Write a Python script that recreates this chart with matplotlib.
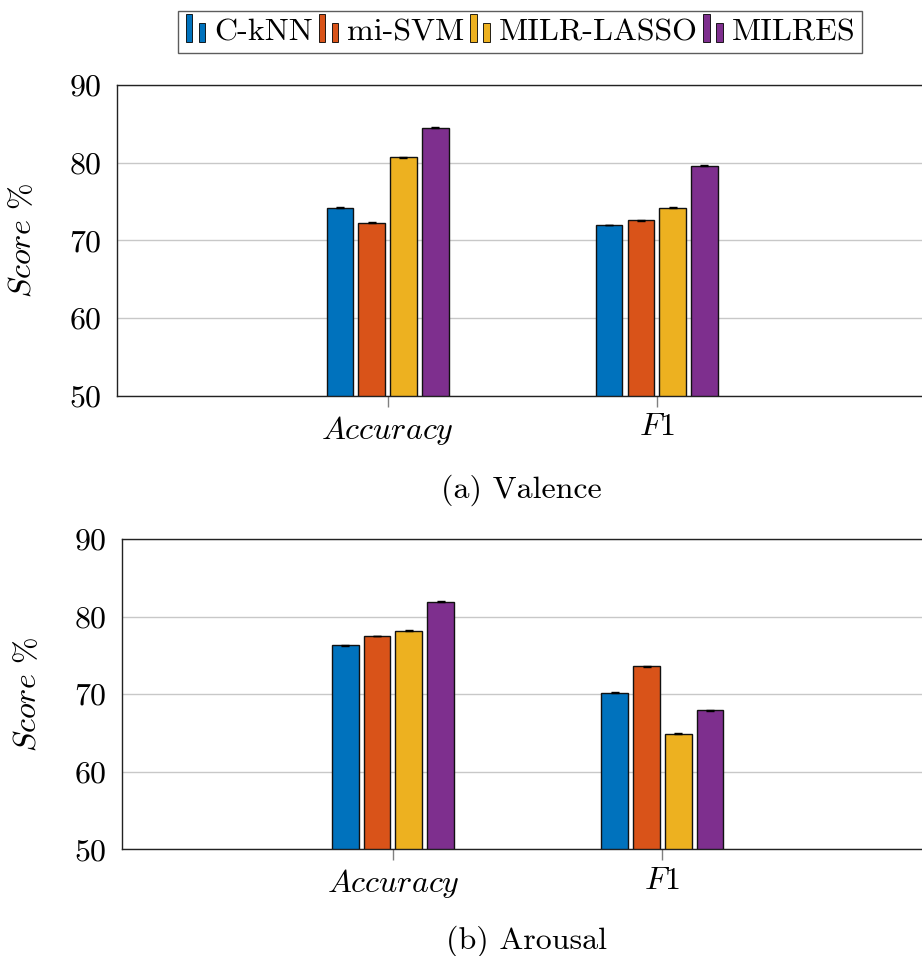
import matplotlib
matplotlib.use("Agg")
import matplotlib.pyplot as plt
from matplotlib.patches import Rectangle
from matplotlib.legend_handler import HandlerBase
import numpy as np

plt.rcParams['font.family'] = 'cmr10'
plt.rcParams['mathtext.fontset'] = 'cm'
plt.rcParams['axes.formatter.use_mathtext'] = True

metrics = [r'$Accuracy$', r'$F1$']
methods = ['C-kNN', 'mi-SVM', 'MILR-LASSO', 'MILRES']
colors = ['#0072BD', '#D95319', '#EDB120', '#7E2F8E']
valence = {
    'C-kNN': [74.2, 72.0],
    'mi-SVM': [72.3, 72.6],
    'MILR-LASSO': [80.7, 74.2],
    'MILRES': [84.5, 79.6],
}
arousal = {
    'C-kNN': [76.3, 70.2],
    'mi-SVM': [77.5, 73.6],
    'MILR-LASSO': [78.2, 64.9],
    'MILRES': [81.9, 67.9],
}
yticks = [50, 60, 70, 80, 90]

FS = 23

class HandlerTwoBars(HandlerBase):
    def create_artists(self, legend, orig_handle, xdescent, ydescent, width, height, fontsize, trans):
        fc = orig_handle.get_facecolor()
        r1 = Rectangle((xdescent + 0.05 * width, ydescent - 0.1 * height), 0.25 * width, 1.25 * height,
                       facecolor=fc, edgecolor='black', linewidth=0.6, transform=trans)
        r2 = Rectangle((xdescent + 0.55 * width, ydescent - 0.1 * height), 0.25 * width, 0.85 * height,
                       facecolor=fc, edgecolor='black', linewidth=0.6, transform=trans)
        return [r1, r2]

fig = plt.figure(figsize=(9.22, 9.56), dpi=100)
ax1 = fig.add_axes([0.1269, 0.5858, 0.8774, 0.3253])
ax2 = fig.add_axes([0.1323, 0.1116, 0.8785, 0.3246])

bw = 0.099
pitch = 0.118
x = np.arange(len(metrics))
handles = []
for ax, data in [(ax1, valence), (ax2, arousal)]:
    for i, m in enumerate(methods):
        pos = x + (i - 1.5) * pitch
        b = ax.bar(pos, [v - 50 for v in data[m]], bw, bottom=50, color=colors[i],
                   edgecolor='#111111', linewidth=1.0, zorder=3, label=m)
        ax.errorbar(pos, data[m], yerr=0.05, fmt='none', ecolor='black',
                    elinewidth=0.8, capsize=3, capthick=1.0, zorder=4)
        if ax is ax1:
            handles.append(b.patches[0])
    ax.set_xlim(-1.005, 2.0)
    ax.set_ylim(50, 90)
    ax.set_yticks(yticks)
    ax.set_yticklabels([str(t) for t in yticks], fontsize=FS)
    ax.set_xticks(x)
    ax.set_xticklabels(metrics, fontsize=FS)
    ax.tick_params(axis='y', length=0, pad=11)
    ax.tick_params(axis='x', length=8, color='#808080', width=1.0, pad=5, direction='out')
    ax.yaxis.grid(True, color='#c8c8c8', linewidth=1.0, zorder=0)
    ax.set_axisbelow(True)
    for s in ['left', 'bottom', 'top', 'right']:
        ax.spines[s].set_linewidth(1.0)
        ax.spines[s].set_color('#222222')
    ax.set_ylabel(r'$Score$ %', fontsize=FS)
    ax.yaxis.set_label_coords(-0.099, 0.5)

fig.legend(handles, methods, loc='center', bbox_to_anchor=(520 / 922, 1 - 32 / 956),
           ncol=4, fontsize=FS, frameon=True, fancybox=False, edgecolor='#333333',
           handler_map={h: HandlerTwoBars() for h in handles},
           handlelength=0.8, handletextpad=0.12, columnspacing=0.15, borderpad=0.22,
           borderaxespad=0.0)

fig.text(521 / 922, 1 - 490 / 956, '(a) Valence', ha='center', va='center', fontsize=FS)
fig.text(526 / 922, 1 - 941 / 956, '(b) Arousal', ha='center', va='center', fontsize=FS)

fig.savefig('out.png', dpi=100)
